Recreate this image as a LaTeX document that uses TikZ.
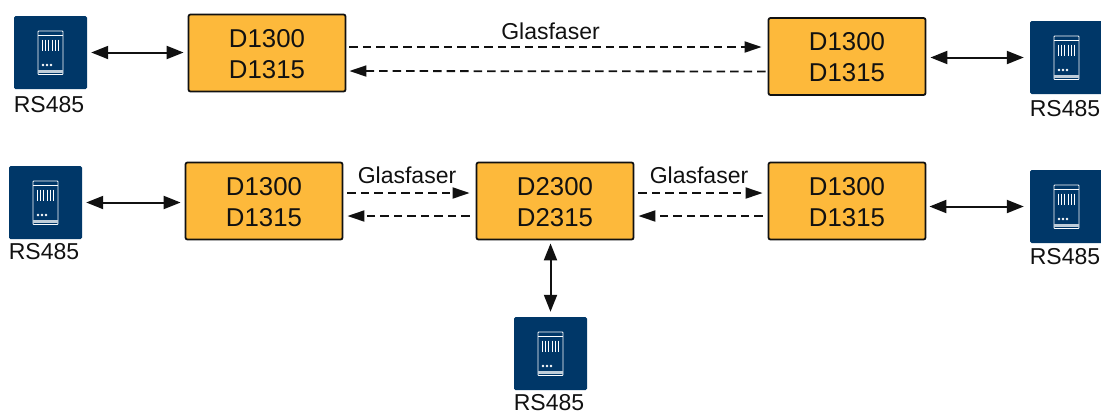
\documentclass[tikz,border=0pt]{standalone}
\usepackage{fontspec}
\setmainfont{Liberation Sans}
\usetikzlibrary{arrows.meta}
\definecolor{boxfill}{HTML}{FDB93B}
\definecolor{devblue}{HTML}{003768}
\definecolor{inkblack}{HTML}{111111}
\tikzset{
  unitbox/.style={draw=inkblack,fill=boxfill,line width=1.8pt,rounded corners=2pt,minimum width=157pt,minimum height=77pt,inner sep=0pt,align=center,font=\fontsize{25.8}{31}\selectfont,text=inkblack,text depth=0pt},
  devbox/.style={fill=devblue,rounded corners=1.5pt,minimum width=73pt,minimum height=73pt,inner sep=0pt},
  devlabel/.style={font=\fontsize{23}{26}\selectfont,text=inkblack,inner sep=0pt},
  fiberlabel/.style={font=\fontsize{23}{26}\selectfont,text=inkblack,inner sep=0pt},
  link/.style={line width=2pt,draw=inkblack,{Stealth[length=17pt,width=13pt,inset=0pt]}-{Stealth[length=17pt,width=13pt,inset=0pt]}},
  fiber/.style={line width=1.8pt,draw=inkblack,dash pattern=on 8.5pt off 5pt,-{Stealth[length=17pt,width=11pt,inset=0pt]}},
}
\newcommand{\devicon}[5]{%
  \node[devbox] (#1) at (#2,#3) {};
  \begin{scope}[shift={(#1.center)},draw=white,line width=.9pt]
    \draw[rounded corners=.8pt] (-12.5,-21.5) rectangle (12.5,22);
    \draw (-12.5,-17) -- (12.5,-17);
    \fill[white!75!devblue] (-12.5,17) rectangle (12.5,20);
    \foreach \bx in {-8,-4.8,-1.6,1.6,4.8,8}{\draw[line width=.9pt] (\bx,-13) -- (\bx,-2);}
    \foreach \dx in {-7.5,-3.5,.5}{\fill[white] (\dx,12.5) circle (1.4);}
  \end{scope}
  \node[devlabel] (#4) at (#2-1.5,#5) {RS485};
}
\begin{document}
\begin{tikzpicture}[x=1pt,y=-1pt]
\useasboundingbox (0,0) rectangle (1101,413);
\devicon{d1}{50.5}{52.5}{l1}{105}
\devicon{d2}{1066.5}{57.5}{l2}{108.5}
\devicon{d3}{45.5}{202.5}{l3}{251.5}
\devicon{d4}{1066.5}{206.5}{l4}{256.5}
\devicon{d5}{550.5}{353.5}{l5}{403}
\node[unitbox] (a1) at (267,53) {\raisebox{-1pt}{D1300}\\\raisebox{-1pt}{D1315}};
\node[unitbox] (a2) at (847,56.5) {\raisebox{-1.5pt}{D1300}\\\raisebox{-1.5pt}{D1315}};
\node[unitbox] (b1) at (264,201) {\raisebox{-1pt}{D1300}\\\raisebox{-1pt}{D1315}};
\node[unitbox] (b2) at (555,201) {\raisebox{-1pt}{D2300}\\\raisebox{-1pt}{D2315}};
\node[unitbox] (b3) at (847,201) {\raisebox{-1pt}{D1300}\\\raisebox{-1pt}{D1315}};
\draw[link] ([xshift=4pt]d1.east) -- ([xshift=-4pt]d1.east -| a1.west);
\draw[link] ([xshift=4pt]a2.east |- d2.west) -- ([xshift=-6pt]d2.west);
\draw[link] ([xshift=4pt]d3.east) -- ([xshift=-4pt]d3.east -| b1.west);
\draw[link] ([xshift=3pt]b3.east |- d4.west) -- ([xshift=-6pt]d4.west);
\draw[link] ([yshift=-3pt]b2.south -| d5.north) -- ([yshift=5pt]d5.north);
\draw[fiber] ([shift={(3,-6)}]a1.east) -- ([shift={(-6,-9.5)}]a2.west);
\draw[fiber] ([shift={(-2,15)}]a2.west) -- ([shift={(3,18)}]a1.east);
\draw[fiber] ([shift={(4,-8)}]b1.east) -- ([shift={(-6,-8)}]b2.west);
\draw[fiber] ([shift={(-6,15)}]b2.west) -- ([shift={(4,15)}]b1.east);
\draw[fiber] ([shift={(4,-8)}]b2.east) -- ([shift={(-5,-8)}]b3.west);
\draw[fiber] ([shift={(-5,15)}]b3.west) -- ([shift={(4,15)}]b2.east);
\node[fiberlabel] (g1) at (550.5,31) {Glasfaser};
\node[fiberlabel] (g2) at (407,175) {Glasfaser};
\node[fiberlabel] (g3) at (699,175) {Glasfaser};
\end{tikzpicture}
\end{document}
